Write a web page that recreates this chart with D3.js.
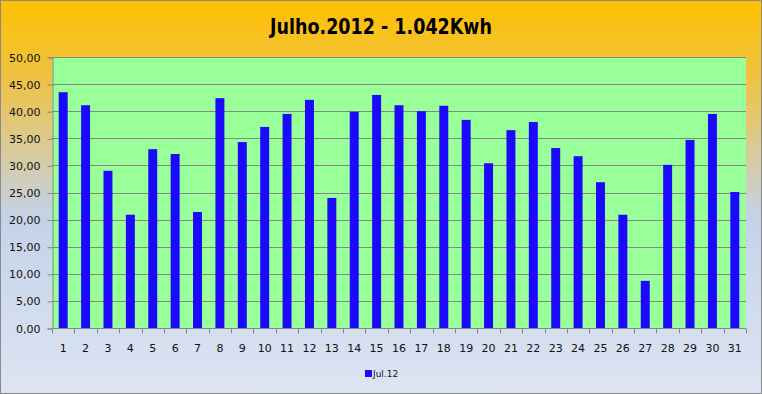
<!DOCTYPE html>
<html>
<head>
<meta charset="utf-8">
<script src="https://cdn.jsdelivr.net/npm/d3@7"></script>
<style>
  body { margin: 0; }
  text { font-family: "DejaVu Sans", sans-serif; }
</style>
</head>
<body>
<div id="chart"></div>
<script>
"use strict";

const WIDTH = 762, HEIGHT = 394;

// data
var days = d3.range(1, 32).map(String);
var values = [43.5, 41.1, 29.0, 20.9, 33.0, 32.1, 21.4, 42.4, 34.3, 37.1,
              39.5, 42.1, 24.0, 39.9, 43.0, 41.1, 40.0, 41.0, 38.4, 30.4,
              36.5, 38.0, 33.2, 31.7, 26.9, 20.9, 8.7, 30.1, 34.7, 39.5, 25.1];
var yTicks = [0, 5, 10, 15, 20, 25, 30, 35, 40, 45, 50];
var title = "Julho.2012 - 1.042Kwh";
var seriesName = "Jul.12";

var margin = { top: 57, right: 16, bottom: 66, left: 52 };

var svg = d3.select("#chart").append("svg")
  .attr("width", WIDTH)
  .attr("height", HEIGHT);

var defs = svg.append("defs");
var grad = defs.append("linearGradient")
  .attr("id", "bg")
  .attr("x1", 0).attr("y1", 0).attr("x2", 0).attr("y2", 1);
grad.append("stop").attr("offset", "0%").attr("stop-color", "#FFC000");
grad.append("stop").attr("offset", "20%").attr("stop-color", "#EEC244");
grad.append("stop").attr("offset", "55%").attr("stop-color", "#C4D2E8");
grad.append("stop").attr("offset", "100%").attr("stop-color", "#DDE5F3");

svg.append("rect")
  .attr("x", 0.5).attr("y", 0.5)
  .attr("width", WIDTH - 1).attr("height", HEIGHT - 1)
  .attr("fill", "url(#bg)")
  .attr("stroke", "#8a8a8a");

var x = d3.scaleBand()
  .domain(days)
  .range([margin.left, WIDTH - margin.right])
  .paddingInner(0.6)
  .paddingOuter(0.3);

var y = d3.scaleLinear()
  .domain([0, 50])
  .range([HEIGHT - margin.bottom, margin.top]);

// plot area
svg.append("rect")
  .attr("x", margin.left)
  .attr("y", margin.top)
  .attr("width", WIDTH - margin.right - margin.left)
  .attr("height", HEIGHT - margin.bottom - margin.top)
  .attr("fill", "#99FF99");

// grid lines
svg.append("g")
  .selectAll("line")
  .data(yTicks)
  .join("line")
  .attr("x1", margin.left)
  .attr("x2", WIDTH - margin.right)
  .attr("y1", d => Math.round(y(d)) + 0.5)
  .attr("y2", d => Math.round(y(d)) + 0.5)
  .attr("stroke", "#868686")
  .attr("stroke-width", 1);

// bars
svg.append("g")
  .selectAll("rect")
  .data(values)
  .join("rect")
  .attr("x", (d, i) => x(days[i]))
  .attr("y", d => y(d))
  .attr("width", x.bandwidth())
  .attr("height", d => y(0) - y(d))
  .attr("fill", "#1A08FF");

// y axis
var yAxis = d3.axisLeft(y)
  .tickValues(yTicks)
  .tickSize(5)
  .tickPadding(7)
  .tickFormat(d => d3.format(".2f")(d).replace(".", ","));
var gy = svg.append("g")
  .attr("transform", "translate(" + (margin.left + 0.5) + ",0.5)")
  .call(yAxis);
gy.selectAll("path, line").attr("stroke", "#868686");
gy.selectAll("text").attr("font-size", 11).attr("fill", "#111");

// x axis with ticks between categories
var x0 = margin.left;
var gx = svg.append("g")
  .attr("transform", "translate(0," + (Math.round(y(0)) + 0.5) + ")");
gx.append("line")
  .attr("x1", margin.left).attr("x2", WIDTH - margin.right)
  .attr("stroke", "#868686");
gx.selectAll("line.tick")
  .data(d3.range(0, days.length + 1))
  .join("line")
  .attr("class", "tick")
  .attr("x1", i => Math.round(x0 + i * (WIDTH - margin.right - margin.left) / days.length) + 0.5)
  .attr("x2", i => Math.round(x0 + i * (WIDTH - margin.right - margin.left) / days.length) + 0.5)
  .attr("y1", 0).attr("y2", 5)
  .attr("stroke", "#868686");
gx.selectAll("text")
  .data(days)
  .join("text")
  .attr("x", d => x(d) + x.bandwidth() / 2)
  .attr("y", 23)
  .attr("text-anchor", "middle")
  .attr("font-size", 11)
  .attr("fill", "#111")
  .text(d => d);

// title
svg.append("text")
  .attr("x", WIDTH / 2)
  .attr("y", 34)
  .attr("text-anchor", "middle")
  .attr("font-family", "'Liberation Sans', sans-serif")
  .attr("font-weight", "bold")
  .attr("font-size", 22)
  .attr("textLength", 222)
  .attr("lengthAdjust", "spacingAndGlyphs")
  .attr("fill", "#000")
  .text(title);

// legend
var legend = svg.append("g").attr("transform", "translate(365,370)");
legend.append("rect")
  .attr("width", 7).attr("height", 7)
  .attr("fill", "#1A08FF");
legend.append("text")
  .attr("x", 8).attr("y", 7)
  .attr("font-size", 9)
  .attr("fill", "#111")
  .text(seriesName);
</script>
</body>
</html>
